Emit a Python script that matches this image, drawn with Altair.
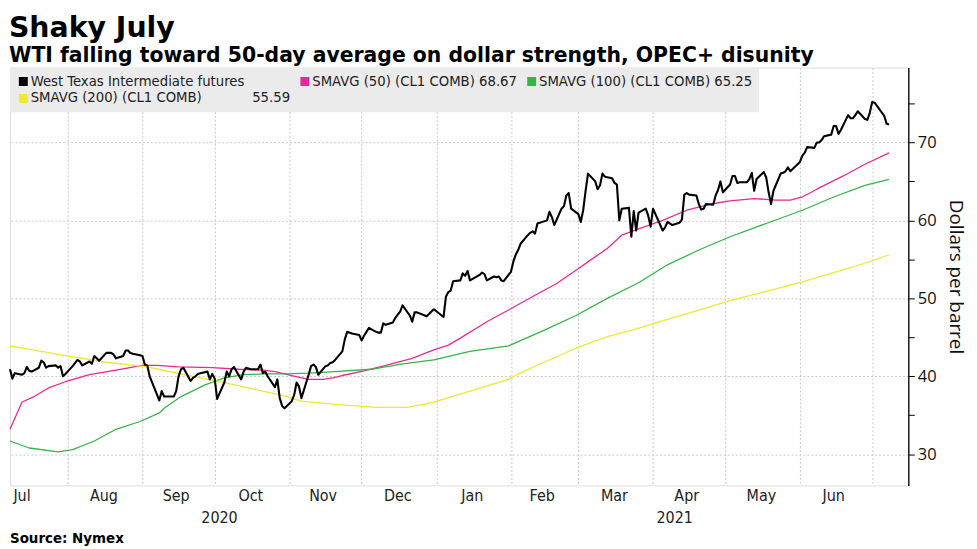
import altair as alt
import pandas as pd

COND = "DejaVu Sans Condensed, Liberation Sans Narrow, DejaVu Sans, sans-serif"
WIDEB = "DejaVu Sans, Liberation Sans, sans-serif"
NUMF = "Open Sans, Liberation Sans, DejaVu Sans, sans-serif"

NB = "\u00a0"
s1 = "West Texas Intermediate futures"
s2 = "SMAVG (50) (CL1 COMB) 68.67"
s3 = "SMAVG (100) (CL1 COMB) 65.25"
s4 = "SMAVG (200) (CL1 COMB)" + NB * 12 + "55.59"
series_names = [s1, s2, s3, s4]
series_colors = ["#000000", "#e8299a", "#35b44a", "#f2e733"]

# WTI daily closes
wti_dates = [
    "2020-07-08", "2020-07-09", "2020-07-10", "2020-07-13", "2020-07-14", "2020-07-15", "2020-07-16",
    "2020-07-17", "2020-07-20", "2020-07-21", "2020-07-22", "2020-07-23", "2020-07-24", "2020-07-27",
    "2020-07-28", "2020-07-29", "2020-07-30", "2020-07-31",
    "2020-08-03", "2020-08-04", "2020-08-05", "2020-08-06", "2020-08-07", "2020-08-10", "2020-08-11",
    "2020-08-12", "2020-08-13", "2020-08-14", "2020-08-17", "2020-08-18", "2020-08-19", "2020-08-20",
    "2020-08-21", "2020-08-24", "2020-08-25", "2020-08-26", "2020-08-27", "2020-08-28", "2020-08-31",
    "2020-09-01", "2020-09-02", "2020-09-03", "2020-09-04", "2020-09-08", "2020-09-09", "2020-09-10",
    "2020-09-11", "2020-09-14", "2020-09-15", "2020-09-16", "2020-09-17", "2020-09-18", "2020-09-21",
    "2020-09-22", "2020-09-23", "2020-09-24", "2020-09-25", "2020-09-28", "2020-09-29", "2020-09-30",
    "2020-10-01", "2020-10-02", "2020-10-05", "2020-10-06", "2020-10-07", "2020-10-08", "2020-10-09",
    "2020-10-12", "2020-10-13", "2020-10-14", "2020-10-15", "2020-10-16", "2020-10-19", "2020-10-20",
    "2020-10-21", "2020-10-22", "2020-10-23", "2020-10-26", "2020-10-27", "2020-10-28", "2020-10-29",
    "2020-10-30",
    "2020-11-02", "2020-11-03", "2020-11-04", "2020-11-05", "2020-11-06", "2020-11-09", "2020-11-10",
    "2020-11-11", "2020-11-12", "2020-11-13", "2020-11-16", "2020-11-17", "2020-11-18", "2020-11-19",
    "2020-11-20", "2020-11-23", "2020-11-24", "2020-11-25", "2020-11-27", "2020-11-30",
    "2020-12-01", "2020-12-02", "2020-12-03", "2020-12-04", "2020-12-07", "2020-12-08", "2020-12-09",
    "2020-12-10", "2020-12-11", "2020-12-14", "2020-12-15", "2020-12-16", "2020-12-17", "2020-12-18",
    "2020-12-21", "2020-12-22", "2020-12-23", "2020-12-24", "2020-12-28", "2020-12-29", "2020-12-30",
    "2020-12-31",
    "2021-01-04", "2021-01-05", "2021-01-06", "2021-01-07", "2021-01-08", "2021-01-11", "2021-01-12",
    "2021-01-13", "2021-01-14", "2021-01-15", "2021-01-19", "2021-01-20", "2021-01-21", "2021-01-22",
    "2021-01-25", "2021-01-26", "2021-01-27", "2021-01-28", "2021-01-29",
    "2021-02-01", "2021-02-02", "2021-02-03", "2021-02-04", "2021-02-05", "2021-02-08", "2021-02-09",
    "2021-02-10", "2021-02-11", "2021-02-12", "2021-02-16", "2021-02-17", "2021-02-18", "2021-02-19",
    "2021-02-22", "2021-02-23", "2021-02-24", "2021-02-25", "2021-02-26",
    "2021-03-01", "2021-03-02", "2021-03-03", "2021-03-04", "2021-03-05", "2021-03-08", "2021-03-09",
    "2021-03-10", "2021-03-11", "2021-03-12", "2021-03-15", "2021-03-16", "2021-03-17", "2021-03-18",
    "2021-03-19", "2021-03-22", "2021-03-23", "2021-03-24", "2021-03-25", "2021-03-26", "2021-03-29",
    "2021-03-30", "2021-03-31",
    "2021-04-01", "2021-04-05", "2021-04-06", "2021-04-07", "2021-04-08", "2021-04-09", "2021-04-12",
    "2021-04-13", "2021-04-14", "2021-04-15", "2021-04-16", "2021-04-19", "2021-04-20", "2021-04-21",
    "2021-04-22", "2021-04-23", "2021-04-26", "2021-04-27", "2021-04-28", "2021-04-29", "2021-04-30",
    "2021-05-03", "2021-05-04", "2021-05-05", "2021-05-06", "2021-05-07", "2021-05-10", "2021-05-11",
    "2021-05-12", "2021-05-13", "2021-05-14", "2021-05-17", "2021-05-18", "2021-05-19", "2021-05-20",
    "2021-05-21", "2021-05-24", "2021-05-25", "2021-05-26", "2021-05-27", "2021-05-28",
    "2021-06-01", "2021-06-02", "2021-06-03", "2021-06-04", "2021-06-07", "2021-06-08", "2021-06-09",
    "2021-06-10", "2021-06-11", "2021-06-14", "2021-06-15", "2021-06-16", "2021-06-17", "2021-06-18",
    "2021-06-21", "2021-06-22", "2021-06-23", "2021-06-24", "2021-06-25", "2021-06-28", "2021-06-29",
    "2021-06-30",
    "2021-07-01", "2021-07-02", "2021-07-06", "2021-07-07", "2021-07-08",
]
wti_values = [
    40.9, 39.7, 40.4, 40.2, 40.4, 41.2, 40.7,
    40.6, 41.1, 42.0, 41.8, 41.1, 41.3, 41.4,
    41.1, 41.3, 40.0, 40.3,
    41.3, 41.7, 42.1, 41.9, 41.4, 41.9, 41.6,
    42.6, 42.3, 42.0, 43.0, 43.0, 43.0, 42.8,
    42.3, 42.6, 43.3, 43.3, 43.0, 42.9, 42.7,
    42.6, 41.5, 41.4, 40.0, 36.9, 38.1, 37.4,
    37.4, 37.4, 38.1, 40.0, 40.9, 41.1, 39.4,
    39.8, 40.0, 40.3, 40.4, 40.6, 39.6, 40.3,
    39.7, 37.1, 39.2, 40.6, 40.0, 40.9, 41.2,
    39.6, 40.6, 41.1, 41.0, 40.9, 40.9, 41.5,
    40.4, 40.6, 40.0, 38.6, 39.6, 37.2, 36.2,
    35.9,
    36.8, 37.6, 39.2, 38.7, 37.2, 40.2, 41.3,
    41.5, 41.2, 40.2, 41.3, 41.4, 41.7, 41.8,
    42.1, 43.2, 44.7, 45.7, 45.5, 45.3,
    44.6, 45.2, 45.7, 46.2, 45.7, 45.6, 45.6,
    46.8, 46.6, 46.9, 47.5, 47.9, 48.3, 49.1,
    47.8, 47.0, 48.2, 48.2, 47.7, 48.0, 48.3,
    48.6,
    47.6, 50.2, 50.8, 51.0, 52.2, 52.3, 53.2,
    52.9, 53.5, 52.3, 53.0, 53.3, 53.1, 52.3,
    52.8, 52.7, 52.8, 52.3, 52.2,
    53.4, 54.7, 55.6, 56.2, 57.0, 58.1, 58.4,
    58.6, 58.3, 59.6, 60.0, 61.1, 60.4, 59.4,
    61.5, 61.8, 63.2, 63.5, 61.5,
    60.8, 59.8, 61.3, 63.8, 66.0, 65.0, 64.0,
    64.5, 66.0, 65.6, 65.4, 64.8, 64.6, 60.0,
    61.5, 61.6, 57.9, 61.2, 58.7, 61.0, 61.5,
    60.6, 59.2,
    61.5, 58.7, 59.1, 59.8, 59.6, 59.4, 59.7,
    60.1, 63.3, 63.5, 63.3, 63.2, 62.1, 61.4,
    61.5, 62.1, 62.0, 63.2, 63.9, 65.0, 63.6,
    64.6, 65.7, 65.7, 64.8, 64.9, 64.9, 65.3,
    66.1, 63.8, 65.3, 66.2, 65.5, 63.6, 62.1,
    63.8, 66.0, 66.1, 66.3, 66.8, 66.3,
    67.5, 68.3, 68.7, 69.4, 69.3, 70.0, 70.0,
    70.3, 70.8, 71.0, 72.1, 72.1, 71.1, 71.6,
    73.5, 73.1, 73.1, 73.5, 74.0, 73.0, 72.9,
    73.8,
    75.2, 75.1, 73.4, 72.4, 72.3,
]

ma50_dates = [
    "2020-07-08", "2020-07-13", "2020-07-18", "2020-07-24", "2020-07-31", "2020-08-10", "2020-08-21",
    "2020-09-01", "2020-09-07", "2020-09-16", "2020-09-30", "2020-10-11", "2020-10-21", "2020-10-26",
    "2020-11-02", "2020-11-09", "2020-11-15", "2020-11-19", "2020-11-23", "2020-12-02", "2020-12-11",
    "2020-12-22", "2020-12-31", "2021-01-06", "2021-01-11", "2021-01-22", "2021-01-31", "2021-02-11",
    "2021-02-20", "2021-02-28", "2021-03-06", "2021-03-13", "2021-03-19", "2021-03-26", "2021-04-05",
    "2021-04-15", "2021-04-25", "2021-05-03", "2021-05-13", "2021-05-22", "2021-05-28", "2021-06-02",
    "2021-06-08", "2021-06-19", "2021-06-28", "2021-07-08",
]
ma50_values = [
    33.2, 36.7, 37.4, 38.5, 39.3, 40.2, 40.8,
    41.4, 41.4, 41.2, 41.1, 40.9, 40.8, 40.6,
    40.1, 39.6, 39.6, 39.8, 40.1, 40.7, 41.4,
    42.3, 43.4, 44.0, 44.9, 47.0, 48.5, 50.4,
    51.9, 53.6, 54.9, 56.4, 58.1, 58.9, 60.0,
    61.3, 62.1, 62.5, 62.8, 62.6, 62.6, 63.0,
    64.0, 65.7, 67.2, 68.67,
]

ma100_dates = [
    "2020-07-08", "2020-07-16", "2020-07-28", "2020-08-03", "2020-08-12", "2020-08-21", "2020-08-31",
    "2020-09-08", "2020-09-10", "2020-09-17", "2020-09-27", "2020-10-05", "2020-10-13", "2020-10-21",
    "2020-10-30", "2020-11-09", "2020-11-20", "2020-12-05", "2020-12-18", "2020-12-31", "2021-01-15",
    "2021-01-31", "2021-02-14", "2021-02-28", "2021-03-13", "2021-03-26", "2021-04-07", "2021-04-20",
    "2021-05-03", "2021-05-18", "2021-06-02", "2021-06-15", "2021-06-28", "2021-07-08",
]
ma100_values = [
    31.7, 30.8, 30.3, 30.6, 31.7, 33.2, 34.2,
    35.3, 35.9, 37.4, 38.9, 39.8, 40.2, 40.3,
    40.3, 40.4, 40.6, 40.9, 41.6, 42.1, 43.2,
    43.9, 45.8, 47.8, 50.0, 52.0, 54.3, 56.2,
    57.9, 59.6, 61.3, 63.0, 64.5, 65.25,
]

ma200_dates = [
    "2020-07-08", "2020-07-28", "2020-08-17", "2020-09-03", "2020-09-20", "2020-10-05", "2020-10-21",
    "2020-10-30", "2020-11-06", "2020-11-20", "2020-12-07", "2020-12-20", "2020-12-31", "2021-01-15",
    "2021-01-31", "2021-02-04", "2021-02-14", "2021-02-28", "2021-03-13", "2021-03-24", "2021-04-07",
    "2021-04-20", "2021-05-03", "2021-05-18", "2021-06-02", "2021-06-15", "2021-06-28", "2021-07-08",
]
ma200_values = [
    43.9, 42.8, 41.8, 41.2, 40.1, 39.2, 38.1,
    37.5, 36.8, 36.4, 36.0, 36.0, 36.7, 38.1,
    39.6, 40.3, 41.7, 43.6, 45.1, 46.0, 47.3,
    48.5, 49.7, 50.9, 52.1, 53.3, 54.5, 55.59,
]

month_labels = ["Jul", "Aug", "Sep", "Oct", "Nov", "Dec", "Jan", "Feb", "Mar", "Apr", "May", "Jun"]
month_label_dates = ["2020-07-13", "2020-08-16", "2020-09-15", "2020-10-16", "2020-11-15", "2020-12-16",
                     "2021-01-16", "2021-02-14", "2021-03-16", "2021-04-15", "2021-05-16", "2021-06-15"]
year_labels = ["2020", "2021"]
year_label_dates = ["2020-10-03", "2021-04-10"]
y_ticks = [30, 35, 40, 45, 50, 55, 60, 65, 70, 75]

frames = []
for name, d, v in [(s1, wti_dates, wti_values), (s2, ma50_dates, ma50_values),
                   (s3, ma100_dates, ma100_values), (s4, ma200_dates, ma200_values)]:
    frames.append(pd.DataFrame({"date": d, "value": v, "series": name}))
df = pd.concat(frames, ignore_index=True)

W, H = 903, 420

month_starts = [alt.DateTime(year=2020, month=m, date=1) for m in range(8, 13)] + \
               [alt.DateTime(year=2021, month=m, date=1) for m in range(1, 8)]

x_enc = alt.X(
    "date:T",
    scale=alt.Scale(domain=[alt.DateTime(year=2020, month=7, date=8),
                            alt.DateTime(year=2021, month=7, date=16)]),
    axis=alt.Axis(values=month_starts, grid=True, gridDash=[2, 2], gridColor="#c9c9c9",
                  gridWidth=1, labels=False, ticks=False, domain=False, title=None),
)
y_enc = alt.Y(
    "value:Q",
    scale=alt.Scale(domain=[26, 79.6], nice=False, zero=False),
    axis=alt.Axis(
        orient="right", values=y_ticks,
        labelExpr="datum.value % 10 === 0 ? datum.label : ''",
        gridOpacity={"condition": {"test": "datum.value % 10 === 0", "value": 1}, "value": 0},
        gridDash=[2, 2], gridColor="#c9c9c9",
        tickSize=6, tickColor="#000000", domainColor="#000000", domainWidth=1.3,
        labelFont=NUMF, labelFontSize=16.5, labelColor="#111111", labelPadding=3,
        title="Dollars per barrel", titleFont=NUMF, titleFontSize=19, titleFontWeight="normal",
        titleAngle=90, titlePadding=10, titleColor="#111111",
    ),
)
legend = alt.Legend(
    title=None, orient="none", legendX=0, legendY=0, columns=3, direction="horizontal",
    symbolType="square", symbolSize=20, symbolStrokeWidth=4.5, symbolOpacity=1,
    labelFont=COND, labelFontSize=14.8, labelColor="#222222", labelLimit=500, labelOffset=0,
    fillColor="#ebebeb", padding=6, columnPadding=7, rowPadding=1, clipHeight=16,
)
c_enc = alt.Color("series:N", scale=alt.Scale(domain=series_names, range=series_colors), legend=legend)

base = alt.Chart(df)
ma_lines = base.transform_filter(
    alt.FieldOneOfPredicate(field="series", oneOf=[s2, s3, s4])
).mark_line(strokeWidth=1.3, strokeJoin="round").encode(x=x_enc, y=y_enc, color=c_enc)
wti_line = base.transform_filter(
    alt.FieldEqualPredicate(field="series", equal=s1)
).mark_line(strokeWidth=2.1, strokeJoin="round").encode(x=x_enc, y=y_enc, color=c_enc)

months_df = pd.DataFrame({"date": month_label_dates, "label": month_labels})
years_df = pd.DataFrame({"date": year_label_dates, "label": year_labels})
month_text = alt.Chart(months_df).mark_text(font=COND, fontSize=16, color="#222222", baseline="middle").encode(
    x="date:T", y=alt.value(H + 11), text="label:N")
year_text = alt.Chart(years_df).mark_text(font=COND, fontSize=16, color="#222222", baseline="middle").encode(
    x="date:T", y=alt.value(H + 33), text="label:N")
source_text = alt.Chart(pd.DataFrame({"t": ["Source: Nymex"]})).mark_text(
    font=COND, fontSize=15, fontWeight="bold", color="#000000", align="left", baseline="middle"
).encode(x=alt.value(0), y=alt.value(H + 53), text="t:N")

chart = alt.layer(ma_lines, wti_line, month_text, year_text, source_text).properties(
    width=W, height=H,
    padding={"left": 0, "top": 4.5, "right": 4, "bottom": 0},
    title=alt.TitleParams(
        text="Shaky July",
        subtitle="WTI falling toward 50-day average on dollar strength, OPEC+ disunity",
        anchor="start", font=WIDEB, fontSize=28.5, fontWeight="bold", color="#000000",
        subtitleFont=WIDEB, subtitleFontSize=20.5, subtitleFontWeight="bold", subtitleColor="#000000",
        subtitlePadding=3.5, offset=1.5,
    ),
).configure_view(strokeWidth=0).configure(background="#ffffff")

chart.save("out.html", embed_options={"renderer": "svg", "actions": False})
